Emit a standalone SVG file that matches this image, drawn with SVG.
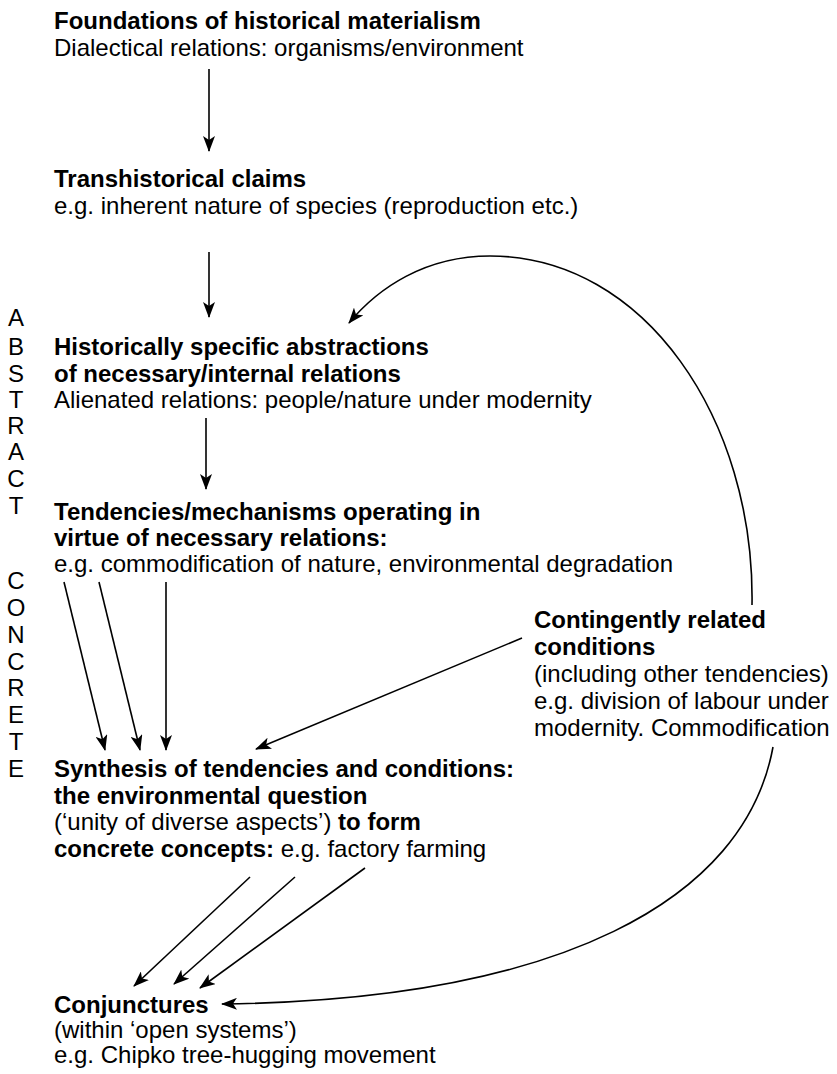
<svg xmlns="http://www.w3.org/2000/svg" width="837" height="1074" viewBox="0 0 837 1074">
<style>
text{font-family:"Liberation Sans",Arial,Helvetica,sans-serif;font-size:24px;fill:#000}
.b{font-weight:bold}
.col{text-anchor:middle}
.c{fill:none;stroke:#000;stroke-width:1.6}
</style>
<defs>
<marker id="ah" markerUnits="userSpaceOnUse" markerWidth="16" markerHeight="12" viewBox="0 0 16 12" refX="15" refY="6" orient="auto">
<path d="M0,0 L16,6 L0,12 L4,6 Z" fill="#000"/>
</marker>
</defs>
<rect width="837" height="1074" fill="#fff"/>
<g id="side-label">
<text class="col" x="16" y="326">A</text>
<text class="col" x="16" y="355">B</text>
<text class="col" x="16" y="382">S</text>
<text class="col" x="16" y="408">T</text>
<text class="col" x="16" y="434">R</text>
<text class="col" x="16" y="460">A</text>
<text class="col" x="16" y="487">C</text>
<text class="col" x="16" y="514">T</text>
<text class="col" x="16" y="589">C</text>
<text class="col" x="16" y="616">O</text>
<text class="col" x="16" y="643">N</text>
<text class="col" x="16" y="670">C</text>
<text class="col" x="16" y="696">R</text>
<text class="col" x="16" y="723">E</text>
<text class="col" x="16" y="750">T</text>
<text class="col" x="16" y="777">E</text>
</g>
<g id="foundations">
<text class="b" x="54" y="29">Foundations of historical materialism</text>
<text x="54" y="56">Dialectical relations: organisms/environment</text>
</g>
<g id="transhistorical">
<text class="b" x="54" y="187">Transhistorical claims</text>
<text x="54" y="214">e.g. inherent nature of species (reproduction etc.)</text>
</g>
<g id="historically-specific">
<text class="b" x="54" y="355">Historically specific abstractions</text>
<text class="b" x="54" y="382">of necessary/internal relations</text>
<text x="54" y="408">Alienated relations: people/nature under modernity</text>
</g>
<g id="tendencies">
<text class="b" x="54" y="520">Tendencies/mechanisms operating in</text>
<text class="b" x="54" y="546">virtue of necessary relations:</text>
<text x="54" y="572">e.g. commodification of nature, environmental degradation</text>
</g>
<g id="contingent">
<text class="b" x="534" y="628">Contingently related</text>
<text class="b" x="534" y="655">conditions</text>
<text x="534" y="682">(including other tendencies)</text>
<text x="534" y="709">e.g. division of labour under</text>
<text x="534" y="736">modernity. Commodification</text>
</g>
<g id="synthesis">
<text class="b" x="54" y="777">Synthesis of tendencies and conditions:</text>
<text class="b" x="54" y="804">the environmental question</text>
<text x="54" y="830">(‘unity of diverse aspects’) <tspan class="b">to form</tspan></text>
<text x="54" y="857"><tspan class="b">concrete concepts:</tspan> e.g. factory farming</text>
</g>
<g id="conjunctures">
<text class="b" x="54" y="1013">Conjunctures</text>
<text x="54" y="1038">(within ‘open systems’)</text>
<text x="54" y="1063">e.g. Chipko tree-hugging movement</text>
</g>
<g id="connectors">
<path class="c" d="M209,69 L209,151" marker-end="url(#ah)"/>
<path class="c" d="M209,252 L209,317" marker-end="url(#ah)"/>
<path class="c" d="M206,418 L206,489" marker-end="url(#ah)"/>
<path class="c" d="M64,582 L105,750" marker-end="url(#ah)"/>
<path class="c" d="M99,582 L140,750" marker-end="url(#ah)"/>
<path class="c" d="M166,582 L166,750" marker-end="url(#ah)"/>
<path class="c" d="M522,638 L256,749" marker-end="url(#ah)"/>
<path class="c" d="M752,605 C755,420 645,256 490,256 C425,256 378,288 349,323" marker-end="url(#ah)"/>
<path class="c" d="M250,877 L134,986" marker-end="url(#ah)"/>
<path class="c" d="M295,877 L174,984" marker-end="url(#ah)"/>
<path class="c" d="M365,868 L200,988" marker-end="url(#ah)"/>
<path class="c" d="M773,747 C745,900 560,1000 222,1004" marker-end="url(#ah)"/>
</g>
</svg>
